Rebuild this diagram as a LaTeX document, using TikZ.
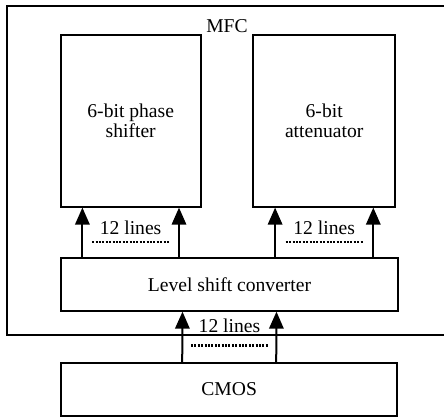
\documentclass[tikz,border=0pt]{standalone}
\usepackage{fontspec}
\setmainfont{Liberation Serif}
\usetikzlibrary{arrows.meta, positioning, calc}

\begin{document}
\begin{tikzpicture}[
    x=1pt, y=1pt,
    >={Triangle[length=8.5pt, width=7.2pt]},
    every node/.style={font=\fontsize{9.8pt}{10.2pt}\selectfont},
    block/.style={rectangle, draw, line width=1pt, align=center, inner sep=0pt},
    arrow/.style={->, line width=1pt},
    dots/.style={line width=1.2pt, dash pattern=on 1pt off 0.7pt},
    label/.style={inner sep=0pt}
]
\useasboundingbox (0,0) rectangle (222,209);

% MFC frame (right side runs off the page)
\node[block, minimum width=220pt, minimum height=164.5pt] (mfc) at (113.5, 123.75) {};
\node[label, below=7pt of mfc.north] (mfclbl) {MFC};

% Blocks inside MFC
\node[block, minimum width=70pt, minimum height=85.8pt] (phase) at (65.35, 148.6) {6-bit phase\\shifter};
\node[block, minimum width=70.8pt, minimum height=85.8pt] (atten) at (162.1, 148.6) {6-bit\\attenuator};
\node[block, minimum width=168.8pt, minimum height=26.35pt] (level) at (114.75, 66.85) {Level shift converter};

% CMOS
\node[block, minimum width=168.2pt, minimum height=26.5pt] (cmos) at (114.6, 14.25) {CMOS};

% Arrows
\foreach \blk in {phase, atten} {
    \draw[arrow] ([xshift=11.35pt]\blk.south west |- level.north) -- ([xshift=11.35pt]\blk.south west);
    \draw[arrow] ([xshift=-11.35pt]\blk.south east |- level.north) -- ([xshift=-11.35pt]\blk.south east);
}
\draw[arrow] ([xshift=-23.5pt]cmos.north) -- ([xshift=-23.5pt]level.south);
\draw[arrow] ([xshift=23.5pt]cmos.north) -- ([xshift=23.5pt]level.south);

% Line counts
\node[label] (lines1) at (65.3, 95) {12 lines};
\node[label] (lines2) at (162.1, 95) {12 lines};
\node[label] (lines3) at (114.75, 46.3) {12 lines};
\foreach \lbl/\dy in {lines1/-7pt, lines2/-7pt, lines3/-10pt} {
    \draw[dots] ([xshift=-19.25pt, yshift=\dy]\lbl.center) -- ([xshift=19.25pt, yshift=\dy]\lbl.center);
}

\end{tikzpicture}
\end{document}
